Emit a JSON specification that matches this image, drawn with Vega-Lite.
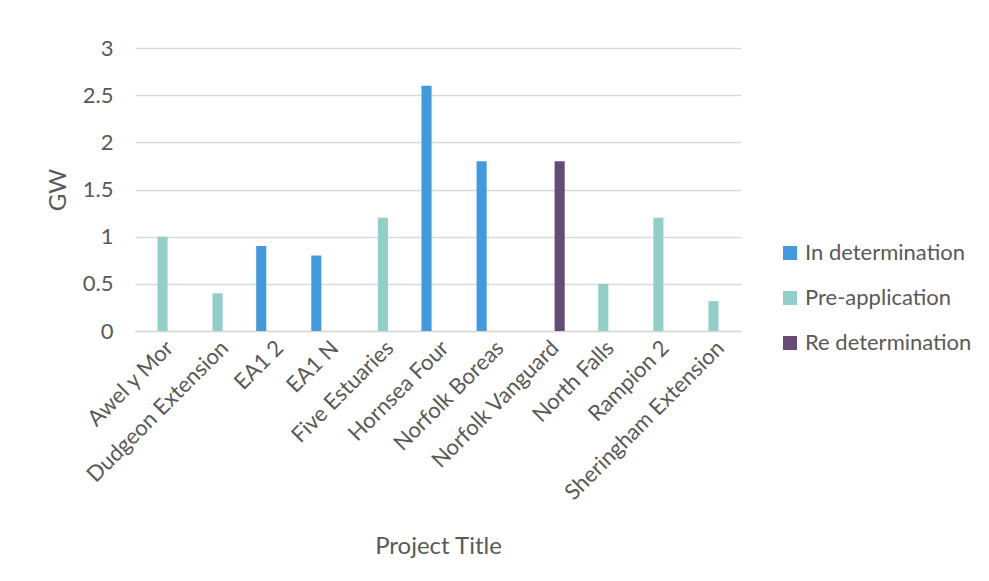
{
  "$schema": "https://vega.github.io/schema/vega-lite/v6.json",
  "width": 606,
  "height": 283,
  "autosize": {"type": "none"},
  "padding": {"left": 135, "top": 48, "right": 248, "bottom": 250},
  "background": "white",
  "config": {
    "font": "Lato",
    "view": {"stroke": null},
    "axis": {"labelColor": "#595959", "titleColor": "#595959", "titleFontWeight": "normal"},
    "legend": {"labelColor": "#595959"}
  },
  "data": {
    "values": [
      {"project": "Awel y Mor", "status": "Pre-application", "gw": 1.0},
      {"project": "Dudgeon Extension", "status": "Pre-application", "gw": 0.4},
      {"project": "EA1 2", "status": "In determination", "gw": 0.9},
      {"project": "EA1 N", "status": "In determination", "gw": 0.8},
      {"project": "Five Estuaries", "status": "Pre-application", "gw": 1.2},
      {"project": "Hornsea Four", "status": "In determination", "gw": 2.6},
      {"project": "Norfolk Boreas", "status": "In determination", "gw": 1.8},
      {"project": "Norfolk Vanguard", "status": "Re determination", "gw": 1.8},
      {"project": "North Falls", "status": "Pre-application", "gw": 0.5},
      {"project": "Rampion 2", "status": "Pre-application", "gw": 1.2},
      {"project": "Sheringham Extension", "status": "Pre-application", "gw": 0.317}
    ]
  },
  "mark": {"type": "bar"},
  "encoding": {
    "x": {
      "field": "project",
      "type": "nominal",
      "sort": null,
      "scale": {"paddingInner": 0.4, "paddingOuter": 0.2},
      "axis": {
        "title": "Project Title",
        "titleFontSize": 24,
        "titlePadding": 31,
        "labelFontSize": 22,
        "labelAngle": -45,
        "labelPadding": 6,
        "labelLimit": 400,
        "ticks": false,
        "domainColor": "#D9D9D9",
        "domainWidth": 1.5,
        "grid": false
      }
    },
    "xOffset": {
      "field": "status",
      "type": "nominal",
      "scale": {"domain": ["In determination", "Pre-application", "Re determination"], "paddingInner": 0.12}
    },
    "y": {
      "field": "gw",
      "type": "quantitative",
      "scale": {"domain": [0, 3]},
      "axis": {
        "title": "GW",
        "titleFontSize": 24,
        "titlePadding": 12,
        "labelFontSize": 22,
        "labelPadding": 22,
        "values": [0, 0.5, 1, 1.5, 2, 2.5, 3],
        "format": "~g",
        "ticks": false,
        "domain": false,
        "gridColor": "#D9D9D9",
        "gridWidth": 1.5
      }
    },
    "color": {
      "field": "status",
      "type": "nominal",
      "scale": {
        "domain": ["In determination", "Pre-application", "Re determination"],
        "range": ["#4299DB", "#92CFC9", "#664B77"]
      },
      "legend": {
        "title": null,
        "orient": "none",
        "legendX": 644,
        "legendY": 194,
        "symbolType": "square",
        "symbolSize": 196,
        "symbolStrokeWidth": 0,
        "labelFontSize": 22,
        "labelOffset": 4,
        "labelLimit": 300,
        "rowPadding": 23
      }
    }
  }
}
